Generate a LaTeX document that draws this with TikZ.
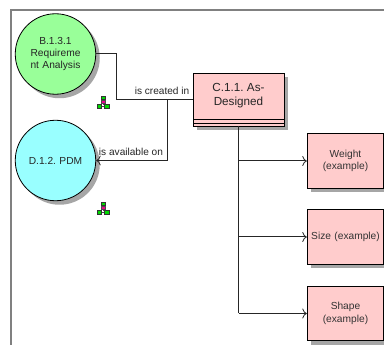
\documentclass[tikz,border=0pt]{standalone}
\usepackage{fontspec}
\setmainfont{Liberation Sans}
\usetikzlibrary{shadows,arrows.meta,calc}
\frenchspacing
\definecolor{grn}{HTML}{99FF99}
\definecolor{cyn}{HTML}{99FFFF}
\definecolor{pnk}{HTML}{FFCCCC}
\definecolor{shd}{HTML}{A6A6A6}
\definecolor{frm}{HTML}{808080}
\tikzset{
  x=1pt,y=-1pt,
  shad/.style={general shadow={fill=shd,shadow xshift=4pt,shadow yshift=-4pt}},
  circ/.style={circle,draw=black,line width=0.8pt,minimum size=80.5pt,inner sep=0pt,align=center,text width=56pt,font=\fontsize{10.2pt}{12.4pt}\selectfont,text=black!85,shad},
  attr/.style={rectangle,draw=black,line width=0.9pt,fill=pnk,minimum width=76.5pt,minimum height=54.5pt,inner sep=0pt,align=center,text width=72pt,font=\fontsize{10.2pt}{12.4pt}\selectfont,text=black!80,shad},
  conn/.style={draw=black!85,line width=1pt},
  arr/.style={conn,-{To[length=4.5pt,width=10pt,line width=0.8pt]}},
  lbl/.style={font=\fontsize{10.1pt}{12pt}\selectfont,inner sep=0pt,text=black!85},
  netico/.pic={
    \draw[black!70,line width=0.8pt] (0,-5)--(0,0) (-4,1)--(4,1) (-4,1)--(-4,4) (4,1)--(4,4);
    \foreach \xa/\ya/\xb/\yb in {-2/-9/2/-5.8,-6/-0.8/-2/3,1.5/-0.8/6/3}
      \draw[fill=green!85!black,draw=black!80,line width=0.7pt] (\xa,\ya) rectangle (\xb,\yb);
    \draw[fill=magenta,draw=black!70,line width=0.6pt] (-2,-4.3) rectangle (2,-1.8);
  }
}
\begin{document}
\begin{tikzpicture}
\useasboundingbox (0,0) rectangle (384,345);
\clip (0,0) rectangle (384,345);
\fill[white] (0,0) rectangle (384,345);
\draw[frm,line width=2pt] (11,345) -- (11,10) -- (384,10);
\node[circ,fill=grn] (req) at (55.5,54) {B.1.3.1\\Requireme\\nt Analysis};
\node[circ,fill=cyn] (pdm) at (55.5,160.5) {D.1.2. PDM};
\node[rectangle,draw=black,line width=0.9pt,fill=pnk,minimum width=91pt,minimum height=53pt,inner sep=0pt,shad] (cbox) at (238.5,99.5) {};
\node[align=center,inner sep=0pt,font=\fontsize{11.7pt}{14pt}\selectfont,text=black!85] (ctext) at (238.5,96) {C.1.1. As-\\Designed};
\draw[black,line width=0.9pt] (193,119) -- (284,119) (193,123) -- (284,123);
\node[attr] (weight) at (345.5,161) {Weight\\(example)};
\node[attr] (size) at (345.5,237) {Size (example)};
\node[attr] (shape) at (345.5,313.5) {Shape\\(example)};
\coordinate (j1) at (116,54);
\coordinate (j2) at (116,99.5);
\coordinate (j3) at (167,99.5);
\coordinate (j4) at (167,160.5);
\coordinate (t) at (238.5,126);
\draw[conn] (req.east) -- (j1) -- (j2) -- (cbox.west);
\draw[arr] (j3) -- (j4) -- (pdm.east);
\draw[conn] (t) -- (238.5,313.5);
\draw[arr] (238.5,161) -- (weight.west);
\draw[arr] (238.5,237) -- (size.west);
\draw[arr] (238.5,313.5) -- (shape.west);
\node[lbl] (l1) at (162,91) {is created in};
\node[lbl] (l2) at (131,151.5) {is available on};
\pic at (103,105) {netico};
\pic at (103,211) {netico};
\end{tikzpicture}
\end{document}
